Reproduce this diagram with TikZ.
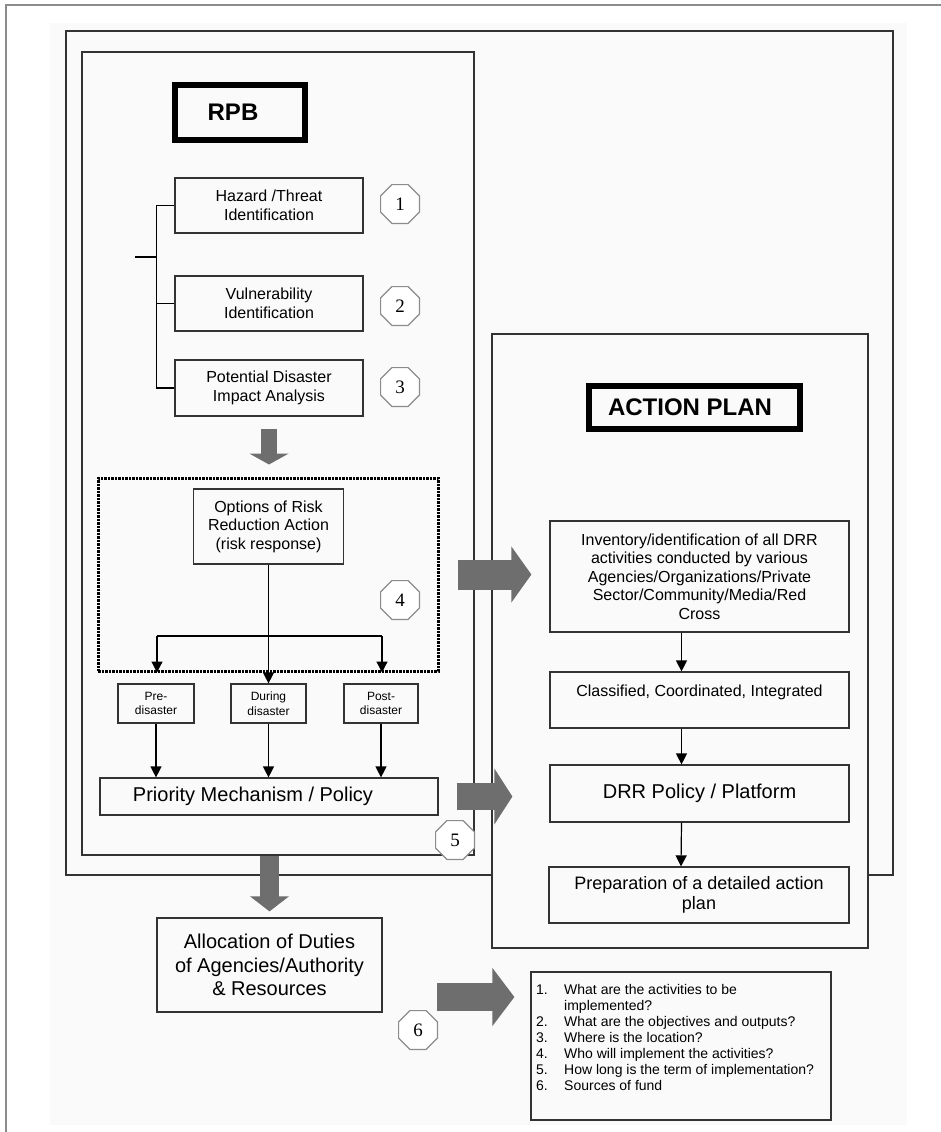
\documentclass[tikz,border=0pt]{standalone}
\usepackage{fontspec}
\setmainfont{Liberation Sans}
\newfontfamily\numfont{Liberation Serif}
\usetikzlibrary{arrows.meta,shapes.geometric}

\definecolor{paper}{gray}{0.98}
\definecolor{ink}{gray}{0.2}
\definecolor{blockgray}{gray}{0.43}

\newcommand\boxfont{\fontsize{16}{18.5}\selectfont}
\newcommand\bigfont{\fontsize{20}{23.5}\selectfont}
\newcommand\phasefont{\fontsize{12}{14.5}\selectfont}
\newcommand\qnum[1]{\makebox[28pt][l]{#1}}

\begin{document}
\begin{tikzpicture}[x=1pt, y=-1pt,
    >={Triangle[width=11pt,length=11pt]},
    box/.style={draw=ink, line width=1.2pt, fill=paper, align=center, inner sep=0pt, font=\boxfont},
    panel/.style={draw=ink, line width=1.2pt, inner sep=0pt},
    titlebox/.style={draw=black, line width=6pt, fill=paper, inner sep=0pt, font=\bfseries\fontsize{24}{28}\selectfont},
    oct/.style={regular polygon, regular polygon sides=8, minimum size=42pt, inner sep=0pt, draw=black!45, line width=1.2pt, fill=white, font=\numfont\fontsize{19}{20}\selectfont},
    link/.style={draw=black, line width=1.2pt},
    flow/.style={->, draw=black, line width=1.2pt},
    blockarrow/.style n args={3}{draw=blockgray, line width=#1, -{Triangle[width=#2,length=#3]}},
  ]
  \useasboundingbox (0,0) rectangle (941,1132);
  \fill[paper] (50,23) rectangle (907,1125);
  \draw[black!45, line width=1.5pt] (941,5) -- (6,5) -- (6,1132);

  % frames
  \node[panel, minimum width=827pt, minimum height=844pt] (outer) at (479.5,453) {};
  \node[panel, minimum width=392pt, minimum height=803pt] (rpbpanel) at (278,453.5) {};
  \node[panel, fill=paper, minimum width=376pt, minimum height=614pt] (planpanel) at (680,641) {};

  \node[titlebox, minimum width=130pt, minimum height=55pt] (rpbtitle) at (240,112.5) {RPB\hspace*{14pt}};
  \node[titlebox, minimum width=211pt, minimum height=43pt] (plantitle) at (694.5,407.5) {ACTION PLAN\hspace*{9pt}};

  % RPB side
  \node[box, minimum width=188pt, minimum height=55pt] (hazard) at (269,205.5) {Hazard /Threat\\Identification};
  \node[box, minimum width=188pt, minimum height=55pt] (vuln) at (269,303.5) {Vulnerability\\Identification};
  \node[box, minimum width=188pt, minimum height=56pt] (impact) at (269,388) {Potential Disaster\\Impact Analysis};

  \coordinate (brk) at (135,257);
  \draw[link] (hazard.west) -- ++(-18,0) coordinate (brktop) |- (impact.west);
  \draw[link] (vuln.west) -- ++(-18,0);
  \draw[link] (brk) -- (brk -| brktop);

  \node[draw=black, line width=3pt, dash pattern=on 2.5pt off 1pt, minimum width=340pt, minimum height=193pt, inner sep=0pt] (riskzone) at (268,574.5) {};
  \node[box, minimum width=150pt, minimum height=75pt] (options) at (268.5,526.5) {Options of Risk\\Reduction Action\\(risk response)};

  \node[box, font=\phasefont, minimum width=76pt, minimum height=39pt] (pre) at (156,703.5) {Pre-\\disaster};
  \node[box, font=\phasefont, minimum width=75pt, minimum height=39pt] (during) at (268.5,703.5) {During\\disaster};
  \node[box, font=\phasefont, minimum width=74pt, minimum height=39pt] (post) at (381,703.5) {Post-\\disaster};

  \coordinate (barl) at (157,636);
  \coordinate (barr) at (382,636);
  \draw[link] (barl) -- (barr);
  \draw[flow] (barl) -- (barl |- riskzone.south);
  \draw[flow] (barr) -- (barr |- riskzone.south);
  \draw[flow] (options.south) -- (options.south |- during.north);

  \node[box, font=\bigfont, minimum width=338pt, minimum height=37pt] (priority) at (269,796.5) {Priority Mechanism / Policy\hspace*{32pt}};
  \draw[flow] (pre.south) -- (pre.south |- priority.north);
  \draw[flow] (during.south) -- (during.south |- priority.north);
  \draw[flow] (post.south) -- (post.south |- priority.north);

  \node[box, font=\bigfont, minimum width=225pt, minimum height=94pt] (alloc) at (269.5,965) {Allocation of Duties\\of Agencies/Authority\\\& Resources};

  % action plan side
  \node[box, minimum width=299pt, minimum height=111pt] (inventory) at (699.5,576.5) {Inventory/identification of all DRR\\activities conducted by various\\Agencies/Organizations/Private\\Sector/Community/Media/Red\\Cross};
  \node[box, minimum width=299pt, minimum height=56pt] (classified) at (699.5,700) {Classified, Coordinated, Integrated\\\mbox{}};
  \node[box, font=\bigfont, minimum width=299pt, minimum height=57pt] (drrpolicy) at (699.5,793.5) {DRR Policy / Platform};
  \node[box, font=\fontsize{18}{20}\selectfont, minimum width=300pt, minimum height=56pt] (preparation) at (699,895) {Preparation of a detailed action\\plan};
  \draw[flow] ([xshift=-18pt]inventory.south) -- ([xshift=-18pt]classified.north);
  \draw[flow] ([xshift=-18pt]classified.south) -- ([xshift=-18pt]drrpolicy.north);
  \draw[flow] ([xshift=-18pt]drrpolicy.south) -- ([xshift=-18pt]preparation.north);

  \node[panel, fill=paper, minimum width=300pt, minimum height=148pt] (questions) at (681,1046) {};
  \node[anchor=north west, inner sep=0pt, align=left, font=\fontsize{14}{16}\selectfont] (questlist) at (536,984) {%
    \qnum{1.}What are the activities to be\\
    \hspace*{28pt}implemented?\\
    \qnum{2.}What are the objectives and outputs?\\
    \qnum{3.}Where is the location?\\
    \qnum{4.}Who will implement the activities?\\
    \qnum{5.}How long is the term of implementation?\\
    \qnum{6.}Sources of fund};

  % big grey arrows
  \draw[blockarrow={16pt}{39pt}{11pt}, shorten <=12pt, shorten >=12pt] (impact.south) -- (impact.south |- riskzone.north);
  \draw[blockarrow={30pt}{55pt}{20pt}, shorten <=18pt, shorten >=18pt] (riskzone.east) -- (riskzone.east -| inventory.west);
  \draw[blockarrow={27pt}{55pt}{18pt}, shorten <=18pt, shorten >=37pt] (priority.east) -- (priority.east -| drrpolicy.west);
  \draw[blockarrow={19pt}{38pt}{15pt}, shorten >=6pt] (alloc.north |- rpbpanel.south) -- (alloc.north);
  \coordinate (q6) at (437,997);
  \draw[blockarrow={28pt}{57pt}{22pt}, shorten >=16pt] (q6) -- (q6 -| questions.west);

  % step numbers
  \node[oct] (n1) at (400,204) {1};
  \node[oct] (n2) at (400,306) {2};
  \node[oct] (n3) at (400,387) {3};
  \node[oct] (n4) at (400,600) {4};
  \node[oct] (n5) at (455,840) {5};
  \node[oct] (n6) at (418,1030) {6};
\end{tikzpicture}
\end{document}
